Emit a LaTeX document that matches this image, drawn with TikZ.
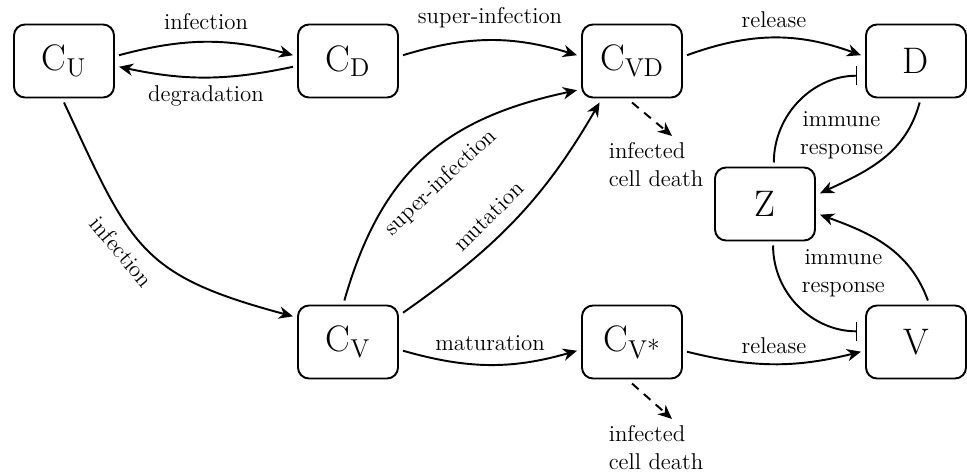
\documentclass[tikz,border=0pt]{standalone}
\usepackage{amsmath}
\usepackage{fontspec}
\usetikzlibrary{arrows.meta, positioning}

\begin{document}
\begin{tikzpicture}[
        line width=1.1pt,
        cell/.style={draw, rounded corners=0.22cm, minimum width=2cm, minimum height=1.46cm, outer sep=0.1cm, font=\fontsize{21}{25}\selectfont},
        lbl/.style={font=\fontsize{13}{16}\selectfont},
        flow/.style={-{Stealth[length=8pt, width=7pt, inset=2.5pt]}},
        inhib/.style={-{Bar[width=11pt]}, shorten >=2pt},
        death/.style={dash pattern=on 5pt off 4pt, -{Stealth[length=8pt, width=7pt, inset=2.5pt]}},
        node distance=3.96cm and 3.48cm
    ]
        \useasboundingbox (0,0) rectangle (19.34,-9.48);
        % cell compartments
        \node[cell] (CU) at (1.28,-1.22) {$\mathrm{C}_{\text{U}}$};
        \node[cell, right=of CU]  (CD)  {$\mathrm{C}_{\text{D}}$};
        \node[cell, right=of CD]  (CVD) {$\mathrm{C}_{\text{VD}}$};
        \node[cell, right=of CVD] (D)   {D};
        \node[cell, below=of CD]  (CV)  {$\mathrm{C}_{\text{V}}$};
        \node[cell, right=of CV]  (CVs) {$\mathrm{C}_{\text{V*}}$};
        \node[cell, right=of CVs] (V)   {V};
        \node[cell] (Z) at (15.30,-4.08) {Z};
        \node[lbl, align=left] (death1) at (13.12,-3.30) {infected\\cell death};
        \node[lbl, align=left] (death2) at (13.12,-8.96) {infected\\cell death};

        % top row
        \draw[flow] (CU.6) to[bend left=15] node[lbl, above=3pt] {infection} (CD.174);
        \draw[flow] (CD.186) to[bend left=12] node[lbl, below=1pt] {degradation} (CU.-6);
        \draw[flow] (CD.6) to[bend left=17] node[lbl, above=3pt] {super-infection} (CVD.174);
        \draw[flow] (CVD.6) to[bend left=20] node[lbl, above=2pt] {release} (D.174);

        % middle
        \draw[flow] (CU.south) to[out=-65, in=165, looseness=1.3] node[lbl, sloped, below=3pt, pos=0.45] {infection} (CV.155);
        \draw[flow] (CV.95) to[out=74, in=192, looseness=1.1] node[lbl, sloped, below=7pt, pos=0.48] {super-infection} (CVD.208);
        \draw[flow] (CV.28) to[out=35, in=240] node[lbl, sloped, above=4pt, pos=0.44] {mutation} (CVD.232);

        % bottom row
        \draw[flow] (CV.-9) to[bend right=16] node[lbl, above=4pt] {maturation} (CVs.189);
        \draw[flow] (CVs.-10) to[bend right=14] node[lbl, above=2pt] {release} (V.190);

        % immune loop
        \draw[inhib] (Z.78) to[out=90, in=180] node[lbl, pos=0.2, right=0.3cm, align=center] {immune\\response} (D.195);
        \draw[flow] (D.-85) to[out=-105, in=25] (Z.11);
        \draw[flow] (V.74) to[out=110, in=-20] (Z.-11);
        \draw[inhib] (Z.-79) to[out=-90, in=180] node[lbl, pos=0.2, right=0.35cm, align=center] {immune\\response} (V.169);

        % cell death
        \draw[death] (CVD.south) -- ([xshift=0.32cm]death1.north);
        \draw[death] (CVs.south) -- ([xshift=0.32cm]death2.north);
\end{tikzpicture}
\end{document}
